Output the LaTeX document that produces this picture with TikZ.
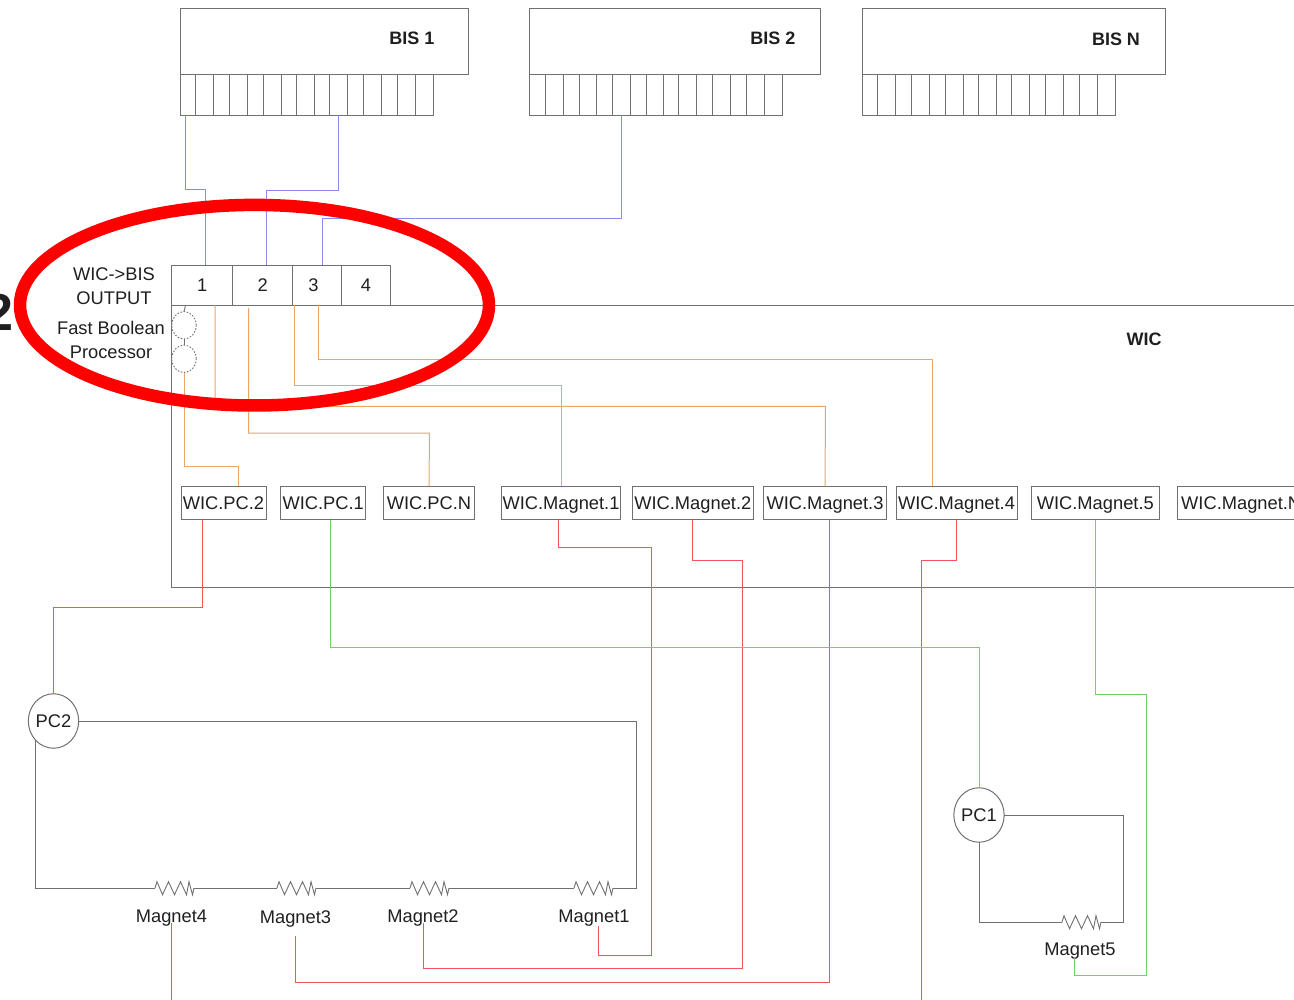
\documentclass[tikz,border=0pt]{standalone}
\usepackage{fontspec}
\setmainfont{Liberation Sans}
\usetikzlibrary{calc,shapes.geometric}
\definecolor{linegray}{HTML}{707070}
\definecolor{wireblue}{HTML}{8A8AF5}
\definecolor{wireorange}{HTML}{EBA565}
\definecolor{wirered}{HTML}{F4555A}
\definecolor{wiregreen}{HTML}{6FD06F}
\tikzset{
 x=1pt,y=-1pt,
 every node/.style={inner sep=0pt,outer sep=0pt,text=black!88,font=\fontsize{18.3}{24}\selectfont},
 boxed/.style={draw=linegray,line width=1pt,fill=white,minimum height=33.5,text height=13.2,text depth=0},
 bisbox/.style={draw=linegray,line width=1pt,fill=white,minimum height=66.5},
 pinstrip/.style={draw=linegray,line width=1pt,minimum height=40.3},
 port/.style={draw=linegray,line width=1pt,fill=white,minimum height=40,text height=13.2,text depth=0},
 pcnode/.style={ellipse,draw=linegray,line width=1pt,fill=white,minimum width=48.5,minimum height=54.5,text height=13.2,text depth=0},
 gate/.style={ellipse,draw=linegray,dash pattern=on 1.6pt off 1.6pt,line width=.9pt,fill=white,minimum width=24.5,minimum height=27.5},
 lab/.style={align=center},
 bold/.style={font=\fontsize{18}{22}\selectfont\bfseries},
 gw/.style={linegray,line width=1pt},
 bw/.style={wireblue,line width=1pt},
 ow/.style={wireorange,line width=1pt},
 rw/.style={wirered,line width=1pt},
 grw/.style={wiregreen,line width=1pt},
 coil/.pic={\draw[linegray,line width=.9pt] (-19,0) -- (-17,-6.3) -- (-11.5,6.7) -- (-5.5,-6.3) -- (0.5,6.7) -- (6.5,-6.3) -- (12.5,6.7) -- (15,-6.3) -- (18.5,6.7) -- (20,0);},
}
\begin{document}
\begin{tikzpicture}
\useasboundingbox (0,0) rectangle (1294,1000);
\clip (0,0) rectangle (1294,1000);
% BIS
\node[bisbox,minimum width=287.8,anchor=north west] (bisA) at (180.5,8.5) {};
\node[bisbox,minimum width=290.5,anchor=north west] (bisB) at (529.7,8.5) {};
\node[bisbox,minimum width=302.5,anchor=north west] (bisC) at (862.5,8.5) {};
\node[bold] (bisAt) at (412,38) {BIS 1};
\node[bold] (bisBt) at (773,38) {BIS 2};
\node[bold] (bisCt) at (1116,39.5) {BIS N};
\foreach \n/\x in {A/180.5,B/529.7,C/862.5}{
 \foreach \i/\o/\w in {1/0/15.3,2/15.3/18,3/33.3/16,4/49.3/17.7,5/67/15.6,6/82.6/18.4,7/101/15.3,8/116.3/17.3,9/133.6/15.4,10/149/18,11/167/16,12/183/17.6,13/200.6/16,14/216.6/18,15/234.6/18}{
  \node[pinstrip,minimum width=\w,anchor=north west] (pin\n\i) at ({\x+\o},75) {};
 }
}
% WIC frame
\node[draw=linegray,line width=1pt,minimum width=1300,minimum height=282,anchor=north west] (wic) at (171.8,305.3) {};
\node[bold] (wict) at (1144,339.5) {WIC};
% ports
\node[port,minimum width=61,anchor=north west] (p1) at (171.8,265.3) {1};
\node[port,minimum width=60,anchor=north west] (p2) at (232.8,265.3) {2};
\node[port,minimum width=49,anchor=north west] (p3) at (292.8,265.3) {3\kern7.5pt\relax};
\node[port,minimum width=48.5,anchor=north west] (p4) at (341.8,265.3) {4};
\node[lab] (outlab) at (114,286) {WIC->BIS\\OUTPUT};
\node[lab] (fastlab) at (111,339.5) {Fast Boolean\\Processor};
% gates
\node[gate] (g1) at (184,325.3) {};
\node[gate] (g2) at (184,358.8) {};
% WIC outputs
\node[boxed,minimum width=85] (wpc2) at (223.5,503) {WIC.PC.2};
\node[boxed,minimum width=85] (wpc1) at (323.2,503) {WIC.PC.1};
\node[boxed,minimum width=90.5] (wpcn) at (429,503) {WIC.PC.N};
\node[boxed,minimum width=118.5] (wm1) at (561,503) {WIC.Magnet.1};
\node[boxed,minimum width=121.5] (wm2) at (692.8,503) {WIC.Magnet.2};
\node[boxed,minimum width=122.5] (wm3) at (825,503) {WIC.Magnet.3};
\node[boxed,minimum width=121] (wm4) at (956.5,503) {WIC.Magnet.4};
\node[boxed,minimum width=127.5] (wm5) at (1095.3,503) {WIC.Magnet.5};
\node[boxed,minimum width=127,anchor=west] (wmn) at (1177.7,503) {WIC.Magnet.N};
% PCs
\node[pcnode] (pc2) at (53.5,721) {PC2};
\node[pcnode] (pc1) at (979,815) {PC1};
% magnets
\foreach \n/\x/\y in {m4/174/888,m3/296/888,m2/429/888,m1/593/888,m5/1081/922}{
 \pic at (\x,\y) {coil};
 \coordinate (\n l) at (\x-19,\y);
 \coordinate (\n r) at (\x+20,\y);
}
\node (m4t) at (171.5,918) {Magnet4};
\node (m3t) at (295.5,919) {Magnet3};
\node (m2t) at (423,918) {Magnet2};
\node (m1t) at (594,918) {Magnet1};
\node (m5t) at (1080,951) {Magnet5};
\coordinate (bottomA) at (171.5,1001);
\coordinate (bottomB) at (921,1001);
% blue
\draw[bw] ($(pinA1.south west)+(4.5,0)$) |- (205,190) -- (205,265.3);
\draw[bw] (pinA10.south) -- ++(0,75) -| (266,265.3);
\draw[bw] (pinB6.south) |- (322,219) -- (322,265.3);
% orange
\draw[ow] (g2.south) |- (238.5,466.5) -- (238.5,486.2);
\draw[ow] (215,305.3) |- (825.5,406.3) -- (wm3.north);
\draw[ow] (248.7,308) |- (429.5,433) -- (wpcn.north);
\draw[ow] (294,305.3) |- (561,386) -- (wm1.north);
\draw[ow] (318,305.3) |- (932.5,359.5) -- (932.5,486.2);
% red
\draw[rw] ($(wpc2.south)+(-21,0)$) |- (53.5,607) -- (pc2.north);
\draw[rw] ($(wm1.south)+(-2.5,0)$) |- (651.5,547) |- (598,955) -- (598,926);
\draw[rw] (wm2.south) |- (742,560.5) |- (423.3,968.5) -- (423.3,923);
\draw[rw] ($(wm3.south)+(4.5,0)$) |- (295.5,982) -- (295.5,936);
\draw[rw] (wm4.south) |- (921,560.5) -- (bottomB);
\draw[rw] (171.5,923) -- (bottomA);
% green
\draw[grw] ($(wpc1.south)+(6.8,0)$) |- (pc1.north |- 0,647.5) -- (pc1.north);
\draw[grw] (wm5.south) |- (1146.7,694) |- (1074.5,975.3) -- (1074.5,958);
% circuits
\draw[gw] (pc2.east) -| (636,888) -- (m1r);
\draw[gw] (m1l) -- (m2r);
\draw[gw] (m2l) -- (m3r);
\draw[gw] (m3l) -- (m4r);
\draw[gw] (m4l) -| (pc2.south west);
\draw[gw] (pc1.east) -| (1123,922) -- (m5r);
\draw[gw] (m5l) -| (pc1.south);
% gate links
\draw[linegray,line width=.9pt] (g1.south) -- (g2.north);
\draw[linegray,line width=.9pt] (g1.north) -- (185.5,305.3);
% big 2
\node[anchor=east,font=\fontsize{52}{52}\selectfont\bfseries] (two) at (13,312) {2};
% red ellipse
\draw[red,line width=12.5pt] (254.5,305.2) ellipse [x radius=234.5,y radius=100.3];
\end{tikzpicture}
\end{document}
